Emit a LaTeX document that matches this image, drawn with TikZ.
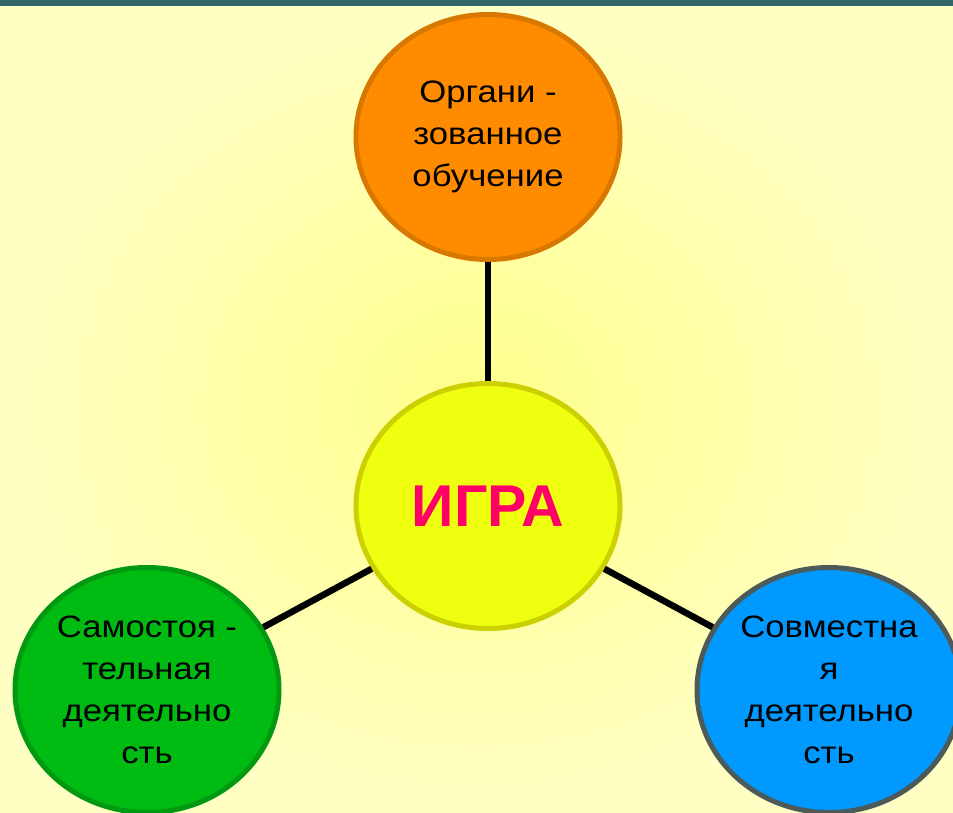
\documentclass[tikz,border=0pt]{standalone}
\usepackage{fontspec}
\setmainfont{Liberation Sans}
\newfontfamily\widefont[FakeStretch=1.12]{Liberation Sans}
\usetikzlibrary{shapes.geometric}

\definecolor{barteal}{RGB}{51,102,102}
\definecolor{bgouter}{RGB}{255,255,196}
\definecolor{bginner}{RGB}{255,255,140}
\definecolor{orgfill}{RGB}{255,140,0}
\definecolor{orgline}{RGB}{217,120,0}
\definecolor{igrafill}{RGB}{238,255,16}
\definecolor{igraline}{RGB}{204,208,0}
\definecolor{igratext}{RGB}{255,0,102}
\definecolor{samfill}{RGB}{0,187,17}
\definecolor{samline}{RGB}{0,153,17}
\definecolor{sovfill}{RGB}{0,153,255}
\definecolor{sovline}{RGB}{77,90,90}

\begin{document}
\begin{tikzpicture}[x=1pt,y=-1pt]
    \tikzstyle{bubble}=[ellipse,minimum width=264pt,minimum height=245pt,inner sep=0pt,line width=5pt,align=center,font=\widefont\fontsize{31}{42}\selectfont]
    \tikzstyle{org bubble}=[bubble, fill=orgfill, draw=orgline]
    \tikzstyle{igra bubble}=[bubble, fill=igrafill, draw=igraline, text=igratext, font=\fontsize{59}{60}\selectfont\bfseries]
    \tikzstyle{sam bubble}=[bubble, fill=samfill, draw=samline]
    \tikzstyle{sov bubble}=[bubble, fill=sovfill, draw=sovline]
    \tikzstyle{link}=[line width=6.5pt, draw=black]

    % Background and top bar
    \useasboundingbox (0,0) rectangle (953,813);
    \shade[inner color=bginner, outer color=bgouter] (0,0) rectangle (953,813);
    \fill[barteal] (0,0) rectangle (953,6);

    % Draw the circles
    \node[igra bubble] (igra) at (488,506) {ИГРА};
    \node[org bubble] (org) at (488,137) {Органи -\\зованное\\обучение};
    \node[sam bubble] (sam) at (147,690) {Самостоя -\\тельная\\деятельно\\сть};
    \node[sov bubble] (sov) at (829,690) {Совместна\\я\\деятельно\\сть};

    % Connect the centre to the others
    \foreach \dest in {org,sam,sov}
        \draw[link] (igra) -- (\dest);
\end{tikzpicture}
\end{document}
